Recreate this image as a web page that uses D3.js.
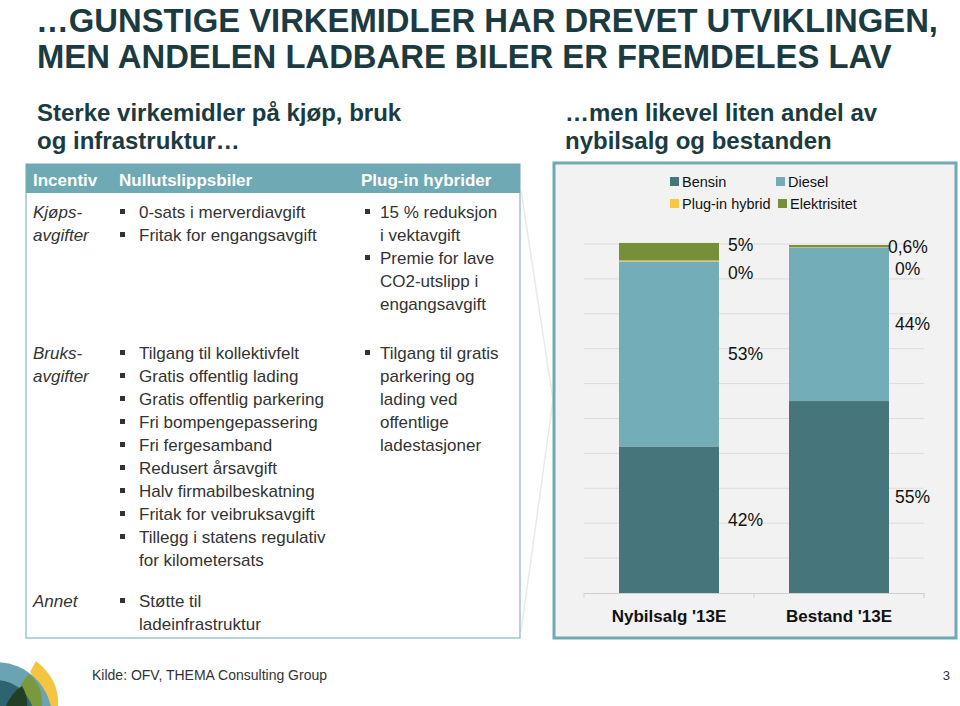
<!DOCTYPE html>
<html><head><meta charset="utf-8">
<script src="https://cdn.jsdelivr.net/npm/d3@7"></script>
<style>body{margin:0;background:#fff}svg{display:block}</style>
</head><body>
<svg id="c" width="960" height="706"></svg>
<script>
// ---------- DATA ----------
const categories = ["Nybilsalg '13E", "Bestand '13E"];
const seriesNames = ["Bensin", "Diesel", "Plug-in hybrid", "Elektrisitet"];
const bensin = [42, 55];
const diesel = [53, 44];
const pluginHybrid = [0.3, 0.1];
const elektrisitet = [5, 0.6];
const bensinLabels = ["42%", "55%"];
const dieselLabels = ["53%", "44%"];
const pluginLabels = ["0%", "0%"];
const elektrisitetLabels = ["5%", "0,6%"];
const yTicks = [0, 10, 20, 30, 40, 50, 60, 70, 80, 90, 100];

const titleLines = ["\u2026GUNSTIGE VIRKEMIDLER HAR DREVET UTVIKLINGEN,", "MEN ANDELEN LADBARE BILER ER FREMDELES LAV"];
const leftSub = ["Sterke virkemidler på kjøp, bruk", "og infrastruktur\u2026"];
const rightSub = ["\u2026men likevel liten andel av", "nybilsalg og bestanden"];
const headers = ["Incentiv", "Nullutslippsbiler", "Plug-in hybrider"];
const rowLabels = [["Kjøps-", "avgifter"], ["Bruks-", "avgifter"], ["Annet"]];
const nullItems = [
  [["0-sats i merverdiavgift"], ["Fritak for engangsavgift"]],
  [["Tilgang til kollektivfelt"], ["Gratis offentlig lading"], ["Gratis offentlig parkering"], ["Fri bompengepassering"], ["Fri fergesamband"], ["Redusert årsavgift"], ["Halv firmabilbeskatning"], ["Fritak for veibruksavgift"], ["Tillegg i statens regulativ", "for kilometersats"]],
  [["Støtte til", "ladeinfrastruktur"]]
];
const plugItems = [
  [["15 % reduksjon", "i vektavgift"], ["Premie for lave", "CO2-utslipp i", "engangsavgift"]],
  [["Tilgang til gratis", "parkering og", "lading ved", "offentlige", "ladestasjoner"]],
  []
];
const source = "Kilde: OFV, THEMA Consulting Group";
const pageNo = "3";

// ---------- DRAW ----------
const svg = d3.select("#c");
const titleColor = "#1b3b41";
const textColor = "#333";
const colors = {"Bensin": "#46767c", "Diesel": "#72adb8", "Plug-in hybrid": "#f6c843", "Elektrisitet": "#76903a"};
const sans = "Liberation Sans, Arial, sans-serif";
const narrow = "Liberation Sans Narrow, Arial Narrow, Liberation Sans, sans-serif";

// faint chevron between panels
svg.append("path")
  .attr("d", "M521,190 L553,400 L521,632")
  .attr("fill", "none").attr("stroke", "#e9e9e9").attr("stroke-width", 1.5);

// title
const t1 = svg.append("text").attr("x", 36).attr("y", 32).text(titleLines[0])
  .attr("font-family", narrow).attr("font-weight", "bold").attr("font-size", 33).attr("fill", titleColor);
const t2 = svg.append("text").attr("x", 37).attr("y", 68).text(titleLines[1])
  .attr("font-family", narrow).attr("font-weight", "bold").attr("font-size", 33).attr("fill", titleColor);
const w1 = t1.node().getComputedTextLength();
const k = 902 / w1;
t1.attr("textLength", 902).attr("lengthAdjust", "spacingAndGlyphs");
t2.attr("textLength", t2.node().getComputedTextLength() * k).attr("lengthAdjust", "spacingAndGlyphs");

// subtitles
leftSub.forEach((s, i) => svg.append("text").attr("x", 37).attr("y", 121 + i * 28).text(s)
  .attr("font-family", sans).attr("font-weight", "bold").attr("font-size", 24).attr("fill", titleColor));
rightSub.forEach((s, i) => svg.append("text").attr("x", 565).attr("y", 121 + i * 28).text(s)
  .attr("font-family", sans).attr("font-weight", "bold").attr("font-size", 24).attr("fill", titleColor));

// ---- table ----
svg.append("rect").attr("x", 26).attr("y", 164).attr("width", 494).attr("height", 474)
  .attr("fill", "#fff").attr("stroke", "#9cc6cc").attr("stroke-width", 1.5);
svg.append("rect").attr("x", 26).attr("y", 164).attr("width", 494).attr("height", 29).attr("fill", "#6fa9b4");
const colX = [33, 119, 361];
headers.forEach((h, i) => svg.append("text").attr("x", colX[i]).attr("y", 186).text(h)
  .attr("font-family", sans).attr("font-weight", "bold").attr("font-size", 17).attr("fill", "#fff"));

const lh = 23;
const rowBase = [218, 359, 607];
function bulletList(items, bx, tx, y0) {
  let line = 0;
  items.forEach(item => {
    svg.append("rect").attr("x", bx).attr("y", y0 + line * lh - 9).attr("width", 5).attr("height", 5).attr("fill", textColor);
    item.forEach(s => {
      svg.append("text").attr("x", tx).attr("y", y0 + line * lh).text(s)
        .attr("font-family", sans).attr("font-size", 17).attr("fill", textColor);
      line++;
    });
  });
}
rowLabels.forEach((lab, r) => {
  lab.forEach((s, j) => svg.append("text").attr("x", 33).attr("y", rowBase[r] + j * lh).text(s)
    .attr("font-family", sans).attr("font-style", "italic").attr("font-size", 17).attr("fill", textColor));
  bulletList(nullItems[r], 120, 139, rowBase[r]);
  bulletList(plugItems[r], 365, 380, rowBase[r]);
});

// ---- chart panel ----
svg.append("rect").attr("x", 554).attr("y", 163).attr("width", 402).attr("height", 475)
  .attr("fill", "#f2f2f2").attr("stroke", "#6fa9b3").attr("stroke-width", 3);

const x = d3.scaleBand().domain(categories).range([584, 924]).paddingInner(70 / 170).paddingOuter(35 / 170);
const y = d3.scaleLinear().domain([0, 100]).range([593, 244]);

svg.append("g").selectAll("line").data(yTicks.filter(d => d > 0)).join("line")
  .attr("x1", 584).attr("x2", 924).attr("y1", d => y(d)).attr("y2", d => y(d))
  .attr("stroke", "#dcdcdc").attr("stroke-width", 1);

const values = [bensin, diesel, pluginHybrid, elektrisitet];
const labels = [bensinLabels, dieselLabels, pluginLabels, elektrisitetLabels];
const rows = categories.map((c, i) => {
  const o = {cat: c};
  seriesNames.forEach((s, j) => o[s] = values[j][i]);
  return o;
});
const stacked = d3.stack().keys(seriesNames)(rows);

svg.append("g").selectAll("g").data(stacked).join("g")
  .attr("fill", d => colors[d.key])
  .selectAll("rect").data(d => d).join("rect")
  .attr("x", d => x(d.data.cat)).attr("width", x.bandwidth())
  .attr("y", d => y(d[1])).attr("height", d => y(d[0]) - y(d[1]));

// axis
const axis = svg.append("g").attr("transform", `translate(0,${y(0)})`)
  .call(d3.axisBottom(x).tickSize(0).tickFormat(""));
axis.select(".domain").attr("stroke", "#d0d0d0");
[584, 754, 924].forEach(px => svg.append("line").attr("x1", px).attr("x2", px).attr("y1", y(0)).attr("y2", y(0) + 5).attr("stroke", "#d0d0d0"));
categories.forEach(c => svg.append("text").attr("x", x(c) + x.bandwidth() / 2).attr("y", 622).text(c)
  .attr("text-anchor", "middle").attr("font-family", sans).attr("font-weight", "bold").attr("font-size", 17).attr("fill", "#111"));

// value labels
categories.forEach((c, i) => {
  const top = y(stacked[3][i][1]);
  const lx = x(c) + x.bandwidth() + 9;
  stacked.forEach((s, j) => {
    let cy;
    if (j === 3) cy = top + 2;
    else if (j === 2) cy = top + (i === 0 ? 30 : 24);
    else cy = (y(s[i][0]) + y(s[i][1])) / 2;
    svg.append("text").attr("x", lx + (j === 3 && i === 1 ? -10 : (i === 1 ? -3 : 0))).attr("y", cy + 6).text(labels[j][i])
      .attr("font-family", sans).attr("font-size", 17.5).attr("fill", "#111");
  });
});

// legend
const legPos = [[670, 181], [776, 181], [670, 203], [778, 203]];
seriesNames.forEach((s, i) => {
  svg.append("rect").attr("x", legPos[i][0]).attr("y", legPos[i][1] - 4).attr("width", 9).attr("height", 9).attr("fill", colors[s]);
  svg.append("text").attr("x", legPos[i][0] + 12).attr("y", legPos[i][1] + 6).text(s)
    .attr("font-family", sans).attr("font-size", 14.5).attr("fill", "#111");
});

// footer
svg.append("text").attr("x", 92).attr("y", 680).text(source)
  .attr("font-family", narrow).attr("font-size", 14).attr("fill", "#333");
svg.append("text").attr("x", 950).attr("y", 680).text(pageNo).attr("text-anchor", "end")
  .attr("font-family", narrow).attr("font-size", 13).attr("fill", "#333");

// logo
const logo = svg.append("g");
logo.append("path").attr("d", "M36,661 Q60,680 58,706 L38,706 Q40,684 30,672 Z").attr("fill", "#f5c542");
logo.append("circle").attr("cx", -4).attr("cy", 718).attr("r", 56).attr("fill", "#6aa4b2");
logo.append("path").attr("d", "M29,674 Q44,688 42,706 L14,706 Q16,688 29,674 Z").attr("fill", "#7a983c");
logo.append("circle").attr("cx", -4).attr("cy", 718).attr("r", 38).attr("fill", "#2e6470");
logo.append("path").attr("d", "M22,686 Q28,696 27,706 L6,706 Q12,692 22,686 Z").attr("fill", "#203f25");
</script>
</body></html>
